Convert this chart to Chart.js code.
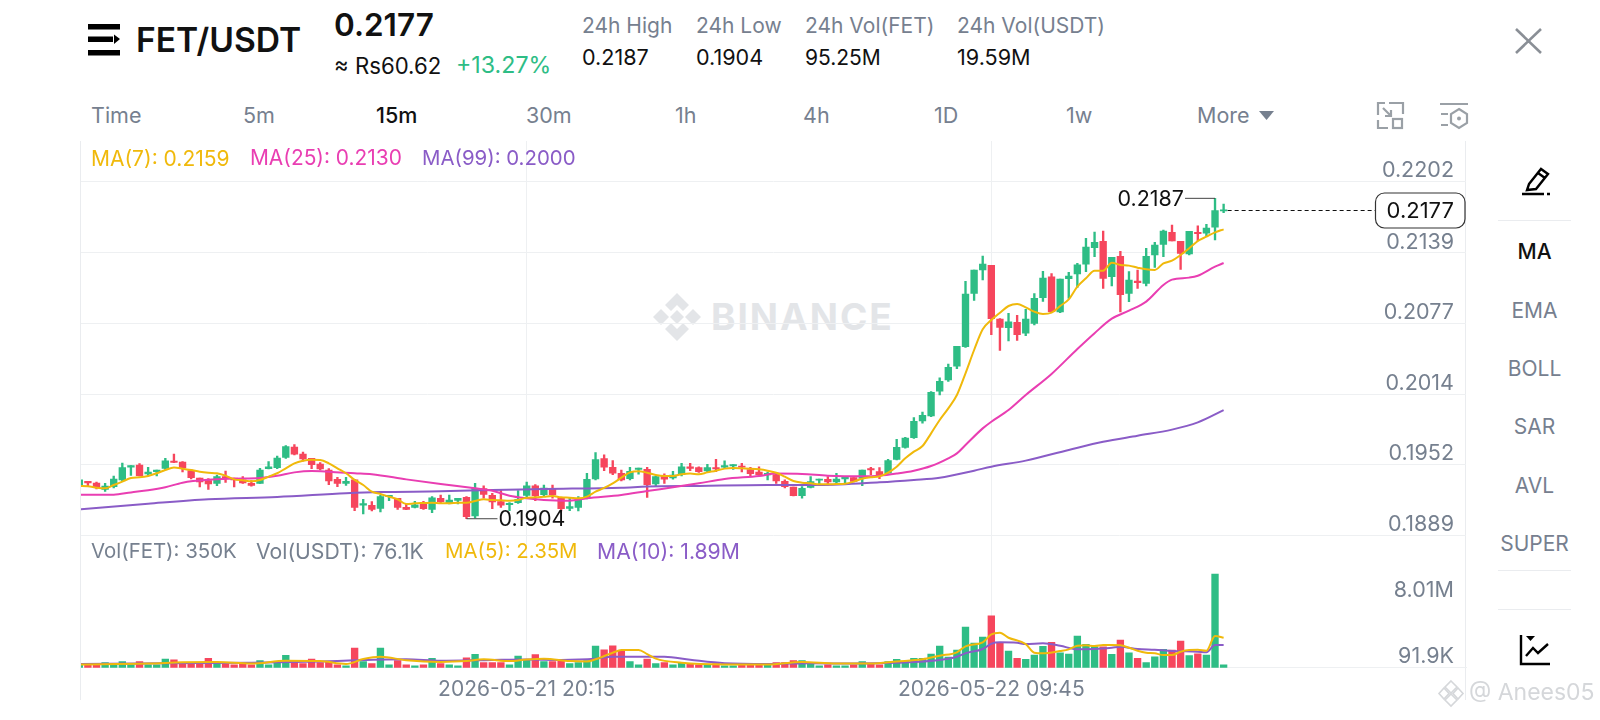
<!DOCTYPE html>
<html>
<head>
<meta charset="utf-8">
<title>FET/USDT</title>
<script src="https://cdn.jsdelivr.net/npm/chart.js@4"></script>
<style>
  html, body { margin: 0; padding: 0; background: #fff; }
  body { width: 1600px; height: 720px; position: relative; overflow: hidden; font-family: Inter, "Noto Sans", sans-serif; color: #76808F; }
  .t { position: absolute; white-space: nowrap; line-height: 1; }
  .k { color: #111; }
  .line { position: absolute; background: #EAECEF; }
  canvas { position: absolute; display: block; }
  svg { position: absolute; overflow: visible; }
</style>
</head>
<body>

<!-- header -->
<svg style="left:88px;top:24px" width="32" height="32">
  <rect x="0" y="0" width="32" height="5.5" fill="#000"/>
  <rect x="0" y="12.5" width="25" height="5.5" fill="#000"/>
  <polygon points="26,10.5 32,15 26,20" fill="#000"/>
  <rect x="0" y="26" width="32" height="5.5" fill="#000"/>
</svg>
<div class="t k" style="left:136px;top:23px;font-size:33.6px;font-weight:600">FET/USDT</div>
<div class="t k" style="left:334px;top:9px;font-size:31.5px;font-weight:600">0.2177</div>
<div class="t k" style="left:334px;top:55px;font-size:22.2px">≈ Rs60.62</div>
<div class="t" style="left:456px;top:54px;font-size:23.2px;color:#2EBD85">+13.27%</div>

<div class="t" style="left:582px;top:15px;font-size:21px">24h High</div>
<div class="t k" style="left:582px;top:47px;font-size:21.6px">0.2187</div>
<div class="t" style="left:696px;top:15px;font-size:21px">24h Low</div>
<div class="t k" style="left:696px;top:47px;font-size:21.6px">0.1904</div>
<div class="t" style="left:805px;top:15px;font-size:21px">24h Vol(FET)</div>
<div class="t k" style="left:805px;top:47px;font-size:21px">95.25M</div>
<div class="t" style="left:957px;top:15px;font-size:21px">24h Vol(USDT)</div>
<div class="t k" style="left:957px;top:47px;font-size:21.6px">19.59M</div>

<svg style="left:1515px;top:28px" width="27" height="26">
  <path d="M1 1 L26 25 M26 1 L1 25" stroke="#8A8F96" stroke-width="2.6" fill="none"/>
</svg>

<!-- interval tabs -->
<div class="t" style="left:91px;top:105px;font-size:21.5px">Time</div>
<div class="t" style="left:243px;top:105px;font-size:21.5px">5m</div>
<div class="t k" style="left:376px;top:105px;font-size:21.5px;font-weight:500">15m</div>
<div class="t" style="left:526px;top:105px;font-size:21.5px">30m</div>
<div class="t" style="left:675px;top:105px;font-size:21.5px">1h</div>
<div class="t" style="left:803px;top:105px;font-size:21.5px">4h</div>
<div class="t" style="left:934px;top:105px;font-size:21.5px">1D</div>
<div class="t" style="left:1066px;top:105px;font-size:21.5px">1w</div>
<div class="t" style="left:1197px;top:105px;font-size:21.5px">More</div>
<svg style="left:1259px;top:111px" width="16" height="10"><polygon points="0,0 15,0 7.5,9" fill="#76808F"/></svg>

<svg style="left:1377px;top:102px" width="27" height="27" fill="none" stroke="#9AA0A6" stroke-width="2.2">
  <path d="M12 1 H26 V12 M1 13 V1 H8 M1 18 V26 H11 M6 6 L14 14 M14 8 V14 H8"/>
  <rect x="16" y="17" width="9" height="9"/>
</svg>
<svg style="left:1440px;top:103px" width="28" height="26" fill="none" stroke="#9AA0A6" stroke-width="2.2">
  <path d="M0 1 H28 M1 11 H8 M1 22 H8"/>
  <polygon points="19,6 27,11 27,20 19,25 11,20 11,11"/>
  <circle cx="19" cy="15.5" r="2" fill="#9AA0A6" stroke="none"/>
</svg>

<!-- side toolbar -->
<svg style="left:1522px;top:166px" width="28" height="29" fill="none" stroke="#000" stroke-width="2.4">
  <path d="M7 18 L19 3 L26 8 L14 23 L5 24 Z M16 7 L23 12"/>
  <path d="M0 28 H22 M25 28 H28"/>
</svg>
<div class="line" style="left:1498px;top:220px;width:73px;height:1px"></div>
<div class="t k" style="left:1498px;width:73px;text-align:center;top:241px;font-size:21px;font-weight:500">MA</div>
<div class="t" style="left:1498px;width:73px;text-align:center;top:300px;font-size:21px">EMA</div>
<div class="t" style="left:1498px;width:73px;text-align:center;top:358px;font-size:21px">BOLL</div>
<div class="t" style="left:1498px;width:73px;text-align:center;top:416px;font-size:21px">SAR</div>
<div class="t" style="left:1498px;width:73px;text-align:center;top:475px;font-size:21px">AVL</div>
<div class="t" style="left:1498px;width:73px;text-align:center;top:533px;font-size:21px">SUPER</div>
<div class="line" style="left:1498px;top:570px;width:73px;height:1px"></div>
<div class="line" style="left:1498px;top:609px;width:73px;height:1px"></div>
<svg style="left:1520px;top:635px" width="31" height="31" fill="none" stroke="#000" stroke-width="2.4">
  <path d="M1 0 V29 H30"/>
  <polygon points="6,1 15,1 10.5,6" fill="#000" stroke="none"/>
  <path d="M6 21 L13 13 L18 18 L28 9"/>
</svg>

<!-- watermark behind the chart -->
<svg style="left:653px;top:293px" width="48" height="48" fill="#E3E5E8">
  <polygon points="24,0 36,12 30,18 24,12 18,18 12,12"/>
  <polygon points="8,16 16,24 8,32 0,24"/>
  <polygon points="40,16 48,24 40,32 32,24"/>
  <polygon points="24,17 31,24 24,31 17,24"/>
  <polygon points="12,36 18,30 24,36 30,30 36,36 24,48"/>
</svg>
<div class="t" style="left:711px;top:298px;font-size:37px;font-weight:700;letter-spacing:2px;color:#E3E5E8">BINANCE</div>

<!-- chart frame -->
<div class="line" style="left:80px;top:141px;width:1px;height:559px"></div>
<div class="line" style="left:1465px;top:141px;width:1px;height:559px"></div>

<canvas id="priceChart" width="1387" height="396" style="left:80px;top:141px"></canvas>
<canvas id="volChart" width="1387" height="164" style="left:80px;top:536px"></canvas>

<!-- pane legends -->
<div class="t" style="left:91px;top:148px;font-size:21px;color:#F0B90B">MA(7): 0.2159</div>
<div class="t" style="left:250px;top:148px;font-size:20.9px;color:#E93EB2">MA(25): 0.2130</div>
<div class="t" style="left:422px;top:148px;font-size:20.4px;color:#8A5CC7">MA(99): 0.2000</div>
<div class="t" style="left:91px;top:541px;font-size:20.4px">Vol(FET): 350K</div>
<div class="t" style="left:256px;top:541px;font-size:21.2px">Vol(USDT): 76.1K</div>
<div class="t" style="left:445px;top:541px;font-size:20.4px;color:#F0B90B">MA(5): 2.35M</div>
<div class="t" style="left:597px;top:541px;font-size:21.2px;color:#8A5CC7">MA(10): 1.89M</div>

<!-- repost mark -->
<svg style="left:1438px;top:680px" width="26" height="27" fill="none" stroke="#D5D7DA" stroke-width="1.6">
  <polygon points="13,1 19,7 13,13 7,7"/>
  <polygon points="6,8 11,13.5 6,19 1,13.5"/>
  <polygon points="20,8 25,13.5 20,19 15,13.5"/>
  <polygon points="13,14 19,20 13,26 7,20"/>
</svg>
<div class="t" style="left:1469px;top:681px;font-size:23px;color:#D5D7DA">@ Anees05</div>

<script>
// 15m candles, oldest first
const opens = [
  0.19324, 0.19371, 0.19356, 0.19300, 0.19324, 0.19383, 0.19497, 0.19515, 0.19436, 0.19456,
  0.19486, 0.19550, 0.19542, 0.19465, 0.19400, 0.19377, 0.19353, 0.19412, 0.19400, 0.19383,
  0.19353, 0.19353, 0.19483, 0.19492, 0.19583, 0.19674, 0.19612, 0.19574, 0.19524, 0.19471,
  0.19388, 0.19353, 0.19383, 0.19159, 0.19159, 0.19132, 0.19235, 0.19221, 0.19141, 0.19141,
  0.19170, 0.19123, 0.19221, 0.19176, 0.19203, 0.19230, 0.19064, 0.19306, 0.19247, 0.19191,
  0.19165, 0.19182, 0.19247, 0.19332, 0.19253, 0.19303, 0.19226, 0.19132, 0.19141, 0.19229,
  0.19391, 0.19571, 0.19495, 0.19442, 0.19394, 0.19477, 0.19477, 0.19347, 0.19418, 0.19400,
  0.19430, 0.19500, 0.19492, 0.19462, 0.19492, 0.19495, 0.19506, 0.19506, 0.19474, 0.19453,
  0.19427, 0.19430, 0.19371, 0.19321, 0.19244, 0.19318, 0.19380, 0.19388, 0.19365, 0.19391,
  0.19403, 0.19397, 0.19483, 0.19456, 0.19442, 0.19565, 0.19671, 0.19757, 0.19904, 0.19949,
  0.20167, 0.20267, 0.20390, 0.20561, 0.21033, 0.21239, 0.21280, 0.20806, 0.20729, 0.20777,
  0.20680, 0.20768, 0.20995, 0.21180, 0.20868, 0.21163, 0.21204, 0.21290, 0.21437, 0.21493,
  0.21180, 0.21360, 0.21033, 0.21142, 0.21121, 0.21372, 0.21466, 0.21572, 0.21493, 0.21381,
  0.21572, 0.21564, 0.21617, 0.21762
];
const closes = [
  0.19383, 0.19356, 0.19315, 0.19329, 0.19391, 0.19492, 0.19509, 0.19421, 0.19453, 0.19471,
  0.19553, 0.19539, 0.19489, 0.19403, 0.19365, 0.19347, 0.19412, 0.19400, 0.19383, 0.19356,
  0.19335, 0.19471, 0.19500, 0.19577, 0.19677, 0.19612, 0.19568, 0.19518, 0.19480, 0.19374,
  0.19353, 0.19371, 0.19141, 0.19173, 0.19123, 0.19235, 0.19247, 0.19141, 0.19123, 0.19162,
  0.19129, 0.19224, 0.19191, 0.19206, 0.19221, 0.19058, 0.19309, 0.19256, 0.19188, 0.19159,
  0.19176, 0.19212, 0.19330, 0.19244, 0.19312, 0.19250, 0.19129, 0.19147, 0.19221, 0.19388,
  0.19562, 0.19495, 0.19442, 0.19383, 0.19459, 0.19489, 0.19341, 0.19412, 0.19389, 0.19427,
  0.19500, 0.19486, 0.19456, 0.19492, 0.19480, 0.19509, 0.19518, 0.19495, 0.19439, 0.19430,
  0.19442, 0.19374, 0.19324, 0.19244, 0.19309, 0.19368, 0.19391, 0.19365, 0.19391, 0.19406,
  0.19371, 0.19471, 0.19471, 0.19430, 0.19554, 0.19671, 0.19754, 0.19901, 0.19954, 0.20158,
  0.20255, 0.20379, 0.20564, 0.21027, 0.21239, 0.21292, 0.20809, 0.20732, 0.20780, 0.20668,
  0.20806, 0.20989, 0.21169, 0.20871, 0.21160, 0.21186, 0.21284, 0.21443, 0.21484, 0.21166,
  0.21351, 0.21021, 0.21151, 0.21127, 0.21360, 0.21460, 0.21584, 0.21496, 0.21387, 0.21581,
  0.21561, 0.21611, 0.21764, 0.21771
];
const highs = [
  0.19388, 0.19371, 0.19365, 0.19353, 0.19418, 0.19533, 0.19509, 0.19527, 0.19495, 0.19471,
  0.19574, 0.19612, 0.19545, 0.19477, 0.19400, 0.19394, 0.19427, 0.19462, 0.19400, 0.19412,
  0.19377, 0.19486, 0.19545, 0.19595, 0.19686, 0.19695, 0.19630, 0.19574, 0.19536, 0.19483,
  0.19406, 0.19406, 0.19388, 0.19212, 0.19191, 0.19247, 0.19247, 0.19221, 0.19170, 0.19194,
  0.19194, 0.19235, 0.19250, 0.19250, 0.19221, 0.19235, 0.19353, 0.19330, 0.19265, 0.19300,
  0.19182, 0.19288, 0.19365, 0.19341, 0.19338, 0.19338, 0.19229, 0.19221, 0.19235, 0.19441,
  0.19624, 0.19604, 0.19554, 0.19471, 0.19495, 0.19489, 0.19495, 0.19418, 0.19436, 0.19459,
  0.19530, 0.19530, 0.19500, 0.19521, 0.19565, 0.19551, 0.19518, 0.19530, 0.19495, 0.19500,
  0.19453, 0.19447, 0.19383, 0.19321, 0.19324, 0.19412, 0.19391, 0.19412, 0.19442, 0.19406,
  0.19403, 0.19471, 0.19495, 0.19492, 0.19565, 0.19742, 0.19760, 0.19934, 0.19984, 0.20164,
  0.20285, 0.20408, 0.20564, 0.21139, 0.21239, 0.21363, 0.21280, 0.20809, 0.20856, 0.20839,
  0.20892, 0.21030, 0.21228, 0.21207, 0.21160, 0.21219, 0.21298, 0.21519, 0.21575, 0.21584,
  0.21351, 0.21404, 0.21225, 0.21239, 0.21431, 0.21484, 0.21593, 0.21637, 0.21493, 0.21581,
  0.21631, 0.21643, 0.21873, 0.21823
];
const lows = [
  0.19279, 0.19332, 0.19303, 0.19282, 0.19312, 0.19368, 0.19424, 0.19418, 0.19418, 0.19418,
  0.19477, 0.19536, 0.19453, 0.19391, 0.19321, 0.19300, 0.19332, 0.19362, 0.19321, 0.19353,
  0.19329, 0.19353, 0.19480, 0.19483, 0.19574, 0.19604, 0.19550, 0.19483, 0.19471, 0.19341,
  0.19324, 0.19335, 0.19111, 0.19082, 0.19109, 0.19100, 0.19200, 0.19123, 0.19120, 0.19135,
  0.19123, 0.19094, 0.19182, 0.19170, 0.19170, 0.19040, 0.19047, 0.19221, 0.19129, 0.19141,
  0.19111, 0.19176, 0.19235, 0.19200, 0.19244, 0.19221, 0.19109, 0.19111, 0.19109, 0.19215,
  0.19383, 0.19465, 0.19430, 0.19374, 0.19383, 0.19433, 0.19229, 0.19324, 0.19353, 0.19389,
  0.19418, 0.19465, 0.19450, 0.19456, 0.19456, 0.19489, 0.19477, 0.19453, 0.19421, 0.19418,
  0.19383, 0.19353, 0.19312, 0.19241, 0.19221, 0.19312, 0.19335, 0.19338, 0.19347, 0.19359,
  0.19365, 0.19332, 0.19430, 0.19394, 0.19442, 0.19559, 0.19663, 0.19751, 0.19884, 0.19943,
  0.20134, 0.20255, 0.20367, 0.20555, 0.20971, 0.21151, 0.20668, 0.20529, 0.20612, 0.20617,
  0.20659, 0.20753, 0.20962, 0.20871, 0.20862, 0.20989, 0.21086, 0.21225, 0.21357, 0.21077,
  0.21098, 0.20868, 0.20960, 0.21077, 0.21098, 0.21263, 0.21357, 0.21496, 0.21245, 0.21372,
  0.21496, 0.21534, 0.21505, 0.21746
];
// volume per candle, in millions
const volumes = [
  0.36, 0.36, 0.36, 0.61, 0.49, 0.73, 0.36, 0.73, 0.36, 0.36,
  1.06, 0.97, 0.61, 0.61, 0.49, 1.14, 0.61, 0.49, 0.36, 0.49,
  0.36, 0.85, 0.36, 0.73, 1.50, 0.73, 0.49, 1.06, 0.61, 0.73,
  0.36, 0.24, 2.39, 0.73, 0.49, 2.39, 0.36, 0.85, 0.36, 0.24,
  0.36, 1.14, 0.49, 0.36, 0.24, 1.21, 1.63, 0.61, 0.61, 0.61,
  0.36, 1.42, 1.03, 1.58, 0.73, 0.73, 0.85, 0.49, 0.61, 0.85,
  2.63, 2.18, 2.67, 2.06, 0.73, 0.36, 1.06, 0.49, 0.61, 0.36,
  0.61, 0.49, 0.36, 0.36, 0.49, 0.24, 0.24, 0.36, 0.49, 0.36,
  0.36, 0.61, 0.61, 0.85, 0.85, 0.61, 0.24, 0.36, 0.24, 0.24,
  0.36, 0.73, 0.49, 0.36, 0.73, 1.02, 0.73, 1.14, 1.14, 1.66,
  2.63, 1.30, 2.15, 4.94, 3.00, 3.72, 6.31, 3.08, 2.03, 1.14,
  1.02, 1.54, 2.60, 3.08, 1.82, 1.66, 3.85, 2.84, 2.55, 2.55,
  1.63, 3.36, 1.82, 1.14, 0.61, 1.33, 2.23, 2.15, 3.24, 1.46,
  1.70, 1.54, 11.37, 0.35
];
// MA(7) has one reading per candle
const ma7 = [
  0.19329, 0.19327, 0.19315, 0.19309, 0.19338, 0.19368, 0.19400, 0.19406, 0.19418, 0.19442,
  0.19471, 0.19492, 0.19483, 0.19471, 0.19456, 0.19447, 0.19442, 0.19421, 0.19388, 0.19380,
  0.19371, 0.19383, 0.19412, 0.19442, 0.19486, 0.19530, 0.19553, 0.19562, 0.19559, 0.19530,
  0.19486, 0.19442, 0.19383, 0.19338, 0.19279, 0.19259, 0.19235, 0.19212, 0.19170, 0.19176,
  0.19179, 0.19182, 0.19176, 0.19176, 0.19182, 0.19182, 0.19197, 0.19212, 0.19206, 0.19203,
  0.19200, 0.19206, 0.19226, 0.19229, 0.19235, 0.19241, 0.19229, 0.19226, 0.19221, 0.19235,
  0.19279, 0.19312, 0.19353, 0.19403, 0.19450, 0.19459, 0.19447, 0.19427, 0.19418, 0.19418,
  0.19433, 0.19439, 0.19433, 0.19450, 0.19465, 0.19483, 0.19489, 0.19486, 0.19483, 0.19477,
  0.19465, 0.19447, 0.19412, 0.19374, 0.19359, 0.19353, 0.19344, 0.19344, 0.19347, 0.19350,
  0.19368, 0.19394, 0.19406, 0.19415, 0.19448, 0.19500, 0.19574, 0.19633, 0.19683, 0.19795,
  0.19913, 0.20016, 0.20134, 0.20326, 0.20532, 0.20715, 0.20797, 0.20862, 0.20921, 0.20939,
  0.20909, 0.20871, 0.20850, 0.20862, 0.20921, 0.20980, 0.21092, 0.21166, 0.21233, 0.21233,
  0.21304, 0.21284, 0.21278, 0.21260, 0.21245, 0.21240, 0.21298, 0.21322, 0.21372, 0.21431,
  0.21496, 0.21534, 0.21572, 0.21599
];
// the slower averages were read at these candles only
const ma25Idx = [0, 4, 6, 8, 10, 12, 15, 18, 21, 23, 25, 27, 29, 32, 34, 38, 42, 46, 48, 50, 52, 54, 57, 59, 63, 66, 69, 72, 75, 79, 81, 84, 87, 91, 93, 95, 97, 99, 101, 102, 103, 105, 106, 108, 110, 113, 116, 118, 120, 122, 124, 126, 127, 129, 130, 132, 133];
const ma25 = [0.19253, 0.19253, 0.19273, 0.19291, 0.19318, 0.19359, 0.19385, 0.19394, 0.19400, 0.19421, 0.19450, 0.19462, 0.19456, 0.19442, 0.19433, 0.19388, 0.19347, 0.19309, 0.19288, 0.19244, 0.19221, 0.19206, 0.19200, 0.19221, 0.19250, 0.19285, 0.19318, 0.19353, 0.19391, 0.19418, 0.19439, 0.19436, 0.19421, 0.19415, 0.19420, 0.19439, 0.19465, 0.19506, 0.19574, 0.19618, 0.19692, 0.19839, 0.19898, 0.20001, 0.20134, 0.20320, 0.20541, 0.20681, 0.20809, 0.20880, 0.20960, 0.21107, 0.21154, 0.21172, 0.21189, 0.21269, 0.21301];
const ma99Idx = [0, 8, 15, 23, 31, 35, 42, 48, 54, 63, 66, 72, 80, 86, 93, 97, 100, 104, 106, 110, 115, 119, 123, 127, 130, 133];
const ma99 = [0.19123, 0.19173, 0.19212, 0.19232, 0.19265, 0.19276, 0.19282, 0.19294, 0.19303, 0.19315, 0.19324, 0.19330, 0.19338, 0.19338, 0.19362, 0.19383, 0.19403, 0.19465, 0.19500, 0.19554, 0.19648, 0.19720, 0.19774, 0.19828, 0.19892, 0.20000];
const volMa5Idx = [0, 8, 12, 16, 20, 24, 28, 31, 33, 35, 38, 42, 45, 47, 50, 52, 54, 57, 59, 60, 62, 63, 65, 66, 67, 70, 75, 80, 84, 88, 92, 95, 98, 100, 102, 103, 105, 106, 107, 108, 110, 111, 112, 114, 115, 116, 117, 118, 119, 120, 121, 122, 123, 124, 125, 126, 127, 128, 129, 130, 131, 132, 133];
const volMa5 = [0.40, 0.50, 0.65, 0.70, 0.50, 0.85, 0.80, 0.45, 1.05, 1.33, 0.90, 0.70, 0.80, 1.02, 0.80, 1.00, 1.10, 0.80, 0.75, 1.02, 1.82, 2.15, 2.15, 1.66, 1.10, 0.60, 0.40, 0.40, 0.70, 0.50, 0.50, 0.75, 1.02, 1.46, 1.87, 2.60, 3.08, 4.05, 4.25, 3.64, 2.87, 1.82, 1.75, 2.03, 2.23, 2.67, 2.72, 2.63, 2.75, 2.75, 2.72, 2.43, 2.06, 1.82, 1.75, 1.54, 1.54, 1.94, 2.15, 2.18, 2.06, 3.85, 3.64];
const volMa10Idx = [0, 10, 20, 28, 32, 38, 42, 48, 52, 56, 60, 62, 68, 71, 75, 80, 85, 90, 95, 100, 102, 103, 105, 106, 107, 109, 110, 112, 114, 116, 118, 120, 121, 123, 125, 127, 130, 131, 132, 133];
const volMa10 = [0.45, 0.55, 0.60, 0.75, 0.90, 1.02, 0.85, 0.95, 1.00, 0.95, 1.09, 1.33, 1.33, 0.97, 0.55, 0.45, 0.55, 0.50, 0.60, 0.93, 1.33, 1.75, 2.27, 2.91, 3.08, 3.03, 2.87, 2.96, 2.67, 2.23, 2.27, 2.43, 2.55, 2.27, 2.18, 2.03, 1.94, 1.87, 2.75, 2.75];

const priceTicks = [0.2202, 0.2139, 0.2077, 0.2014, 0.1952, 0.1889];
const volTicks = [8.01, 0.0919];
const volTickLabels = ['8.01M', '91.9K'];
const timeTickIdx = [52, 106];
const timeTickLabels = ['2026-05-21 20:15', '2026-05-22 09:45'];

const green = '#2EBD85';
const red = '#F6465D';
const gold = '#F0B90B';
const pink = '#E93EB2';
const purple = '#8A5CC7';
const gridColor = '#EEF0F2';
const axisColor = '#76808F';
const fontFamily = 'Inter, "Noto Sans", sans-serif';

// the x axis is in candle numbers, the pane runs on past the last candle
const xMin = 0.198;
const xMax = 161.17;

const candleColors = opens.map((o, i) => closes[i] >= o ? green : red);
const toPoints = (idx, vals) => idx.map((x, n) => ({ x: x, y: vals[n] }));

function maLine(data, color) {
  return {
    type: 'line',
    data: data,
    borderColor: color,
    borderWidth: 2,
    pointRadius: 0,
    cubicInterpolationMode: 'monotone',
    order: 0
  };
}

function barSet(data, width, order) {
  return {
    type: 'bar',
    data: data,
    backgroundColor: candleColors,
    barThickness: width,
    grouped: false,
    order: order
  };
}

// high/low leaders and the last price tag
const priceMarks = {
  id: 'priceMarks',
  afterDatasetsDraw(chart) {
    const { ctx, scales } = chart;
    const hi = 132, lo = 45, last = opens.length - 1;
    ctx.save();
    ctx.font = '21.5px ' + fontFamily;
    ctx.fillStyle = '#111';
    ctx.textBaseline = 'middle';
    ctx.strokeStyle = '#444';
    ctx.lineWidth = 1;

    let x = scales.x.getPixelForValue(hi);
    let y = scales.y.getPixelForValue(highs[hi]);
    ctx.beginPath(); ctx.moveTo(x, y); ctx.lineTo(x - 30, y); ctx.stroke();
    ctx.textAlign = 'right';
    ctx.fillText(highs[hi].toFixed(4), x - 31, y + 1);

    x = scales.x.getPixelForValue(lo);
    y = scales.y.getPixelForValue(lows[lo]);
    ctx.beginPath(); ctx.moveTo(x, y); ctx.lineTo(x + 31, y); ctx.stroke();
    ctx.textAlign = 'left';
    ctx.fillText(lows[lo].toFixed(4), x + 32, y + 1);

    // dashed line out to the tag
    x = scales.x.getPixelForValue(last);
    y = Math.round(scales.y.getPixelForValue(closes[last])) + 0.5;
    const tagLeft = 1295.5, tagW = 89.5, tagH = 35;
    ctx.strokeStyle = '#111';
    ctx.setLineDash([4, 3]);
    ctx.beginPath(); ctx.moveTo(x + 4, y); ctx.lineTo(tagLeft, y); ctx.stroke();
    ctx.setLineDash([]);
    ctx.fillStyle = '#fff';
    ctx.strokeStyle = '#333';
    ctx.lineWidth = 1.2;
    ctx.beginPath();
    ctx.roundRect(tagLeft, y - tagH / 2, tagW, tagH, 9);
    ctx.fill();
    ctx.stroke();
    ctx.fillStyle = '#111';
    ctx.textAlign = 'center';
    ctx.font = '22px ' + fontFamily;
    ctx.fillText(closes[last].toFixed(4), tagLeft + tagW / 2, y + 1);
    ctx.restore();
  }
};

// scale margins would eat into the plot, the labels sit inside it anyway
function noMargins(axis) {
  axis.paddingLeft = axis.paddingRight = axis.paddingTop = axis.paddingBottom = 0;
}

function xAxis(showLabels, height) {
  return {
    type: 'linear',
    offset: false,
    min: xMin,
    max: xMax,
    afterBuildTicks: axis => { axis.ticks = timeTickIdx.map(v => ({ value: v })); },
    afterFit: axis => { axis.height = height; noMargins(axis); },
    grid: { color: gridColor, drawTicks: false, offset: false },
    border: { display: showLabels, color: gridColor },
    ticks: {
      display: showLabels,
      autoSkip: false,
      maxRotation: 0,
      padding: 9,
      color: axisColor,
      font: { family: fontFamily, size: 21 },
      callback: v => timeTickLabels[timeTickIdx.indexOf(v)]
    }
  };
}

function yAxis(min, max, tickVals, tickText, showGrid) {
  return {
    position: 'right',
    min: min,
    max: max,
    afterBuildTicks: axis => { axis.ticks = tickVals.map(v => ({ value: v })); },
    afterFit: axis => { axis.width = 0; noMargins(axis); },
    grid: { display: showGrid, color: gridColor, drawTicks: false },
    border: { display: false },
    ticks: {
      mirror: true,
      align: 'end',
      // mirrored labels are placed from the right edge of the plot
      padding: -12,
      color: axisColor,
      font: { family: fontFamily, size: 21.5 },
      callback: tickText
    }
  };
}

new Chart(document.getElementById('priceChart'), {
  data: {
    datasets: [
      maLine(ma7.map((v, i) => ({ x: i, y: v })), gold),
      maLine(toPoints(ma25Idx, ma25), pink),
      maLine(toPoints(ma99Idx, ma99), purple),
      barSet(opens.map((o, i) => ({ x: i, y: [o, closes[i]] })), 6.7, 1),
      barSet(lows.map((l, i) => ({ x: i, y: [l, highs[i]] })), 1.7, 2)
    ]
  },
  options: {
    responsive: false,
    animation: false,
    devicePixelRatio: 1,
    layout: { padding: { left: 1, right: 1, top: 0, bottom: 1.3 } },
    plugins: { legend: { display: false }, tooltip: { enabled: false } },
    scales: {
      x: xAxis(false, 0),
      y: yAxis(0.1889, 0.2238, priceTicks, v => v.toFixed(4), true)
    }
  },
  plugins: [priceMarks]
});

new Chart(document.getElementById('volChart'), {
  data: {
    datasets: [
      maLine(toPoints(volMa5Idx, volMa5), gold),
      maLine(toPoints(volMa10Idx, volMa10), purple),
      barSet(volumes.map((v, i) => ({ x: i, y: v })), 6.7, 1)
    ]
  },
  options: {
    responsive: false,
    animation: false,
    devicePixelRatio: 1,
    layout: { padding: { left: 1, right: 1, top: 0, bottom: 0 } },
    plugins: { legend: { display: false }, tooltip: { enabled: false } },
    scales: {
      x: xAxis(true, 32.3),
      y: yAxis(0, 16, volTicks, v => volTickLabels[volTicks.indexOf(v)], false)
    }
  }
});
</script>
</body>
</html>
